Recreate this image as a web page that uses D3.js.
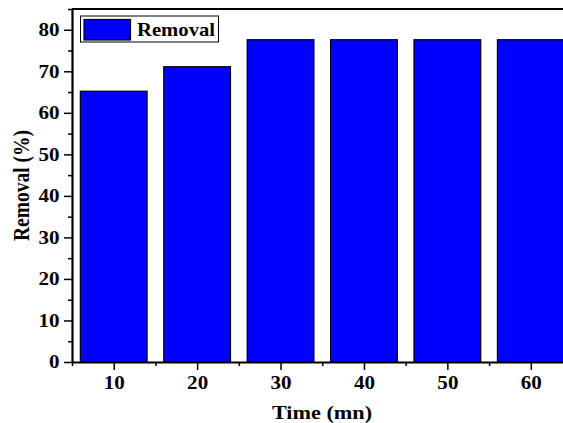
<!DOCTYPE html>
<html>
<head>
<meta charset="utf-8">
<script src="https://cdn.jsdelivr.net/npm/d3@7"></script>
<style>
body { margin: 0; background: #fff; }
text { font-family: "Liberation Serif", "Times New Roman", serif; font-weight: bold; fill: #000; }
</style>
</head>
<body>
<div id="my_chart"></div>
<script>
// data
var times = [10, 20, 30, 40, 50, 60];
var removal = [65.2, 71.1, 77.6, 77.6, 77.6, 77.6];
var yTicks = [0, 10, 20, 30, 40, 50, 60, 70, 80];
var seriesName = "Removal";

var W = 563, H = 423;
var margin = {top: 9, left: 72, bottom: 61};
var serif = '"Liberation Serif", "Times New Roman", serif';
var sx = 1.17; // the original's lettering is a bit wide

var svg = d3.select("#my_chart").append("svg")
    .attr("width", W)
    .attr("height", H);

// x runs past the right edge of the picture (cut off like the original)
var x = d3.scaleLinear().domain([5, 65]).range([margin.left, 572.5]);
var y = d3.scaleLinear().domain([0, 85]).range([H - margin.bottom, margin.top]);

var barW = x(14) - x(6);

// bars
svg.selectAll("rect.bar")
  .data(times)
  .enter()
  .append("rect")
    .attr("class", "bar")
    .attr("x", function(d) { return x(d) - barW / 2; })
    .attr("y", function(d, i) { return y(removal[i]); })
    .attr("width", barW)
    .attr("height", function(d, i) { return y(0) - y(removal[i]); })
    .attr("fill", "#0000ff")
    .attr("stroke", "#000")
    .attr("stroke-width", 1.2);

// top border
svg.append("line")
  .attr("x1", x(5)).attr("x2", W)
  .attr("y1", y(85)).attr("y2", y(85))
  .attr("stroke", "#000").attr("stroke-width", 2.2);

// y axis
var yAxis = svg.append("g")
  .attr("transform", "translate(" + x(5) + ",0)")
  .call(d3.axisLeft(y).tickValues(yTicks).tickSize(8).tickPadding(4).tickSizeOuter(0))
  .attr("font-family", serif);
yAxis.selectAll("text")
  .style("font-size", "18px")
  .attr("x", -12.5 / sx)
  .attr("transform", "scale(" + sx + ",1)");
yAxis.selectAll(".tick line").attr("stroke-width", 1.5);
yAxis.select(".domain").attr("stroke-width", 2.2);
// minor y ticks
svg.append("g")
  .attr("transform", "translate(" + x(5) + ",0)")
  .call(d3.axisLeft(y).tickValues(yTicks.map(function(v) { return v + 5; })).tickSize(4).tickFormat("").tickSizeOuter(0))
  .call(function(g) { g.select(".domain").remove(); g.selectAll("line").attr("stroke-width", 1.5); });

// x axis
var xAxis = svg.append("g")
  .attr("transform", "translate(0," + y(0) + ")")
  .call(d3.axisBottom(x).tickValues(times).tickSize(8).tickPadding(6).tickSizeOuter(0))
  .attr("font-family", serif);
xAxis.selectAll("text")
  .style("font-size", "18px")
  .attr("transform", "scale(" + sx + ",1)");
xAxis.selectAll(".tick line").attr("stroke-width", 1.5);
xAxis.select(".domain").attr("stroke-width", 2.2);
svg.append("g")
  .attr("transform", "translate(0," + y(0) + ")")
  .call(d3.axisBottom(x).tickValues(times.map(function(v) { return v - 5; }).concat([65])).tickSize(4).tickFormat("").tickSizeOuter(0))
  .call(function(g) { g.select(".domain").remove(); g.selectAll("line").attr("stroke-width", 1.5); });

// axis titles
svg.append("text")
  .attr("transform", "translate(322,419)scale(" + sx + ",1)")
  .attr("text-anchor", "middle")
  .style("font-size", "19px")
  .text("Time (mn)");
svg.append("text")
  .attr("transform", "translate(28.5," + ((y(0) + y(85)) / 2) + ")rotate(-90)scale(1," + sx + ")")
  .attr("text-anchor", "middle")
  .style("font-size", "19.5px")
  .text("Removal (%)");

// legend
var lg = svg.append("g");
lg.append("rect")
  .attr("x", 80.5).attr("y", 16).attr("width", 138).attr("height", 26)
  .attr("fill", "#fff").attr("stroke", "#000").attr("stroke-width", 1);
lg.append("rect")
  .attr("x", 84).attr("y", 19.5).attr("width", 46.5).attr("height", 20.5)
  .attr("fill", "#0000ff").attr("stroke", "#000").attr("stroke-width", 1.2);
lg.append("text")
  .attr("transform", "translate(137,36)scale(1.15,1)")
  .style("font-size", "18px")
  .text(seriesName);
</script>
</body>
</html>
